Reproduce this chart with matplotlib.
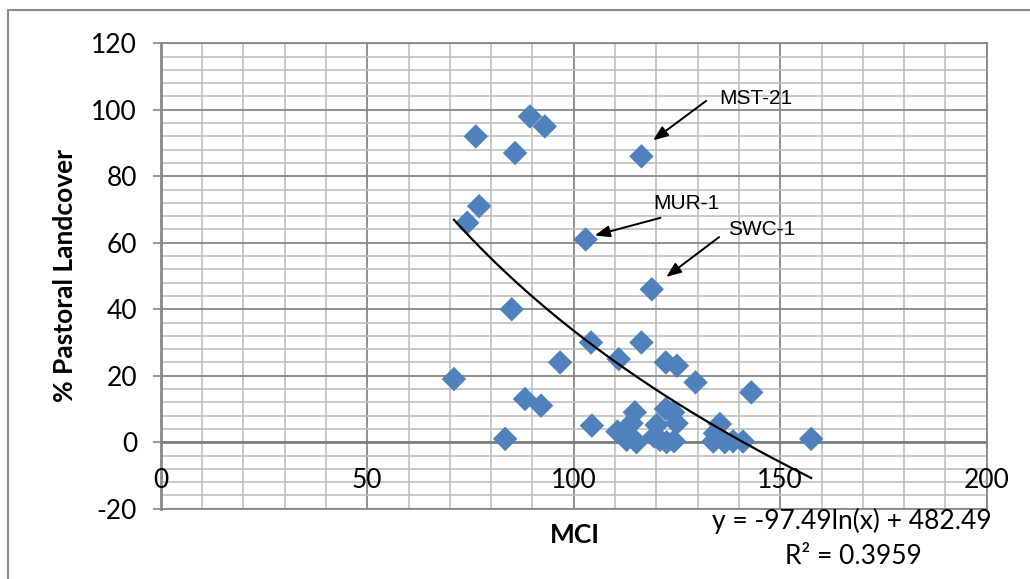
import numpy as np
import matplotlib

matplotlib.use("Agg")
import matplotlib.pyplot as plt
from matplotlib.patches import Rectangle

# MCI vs % pastoral landcover per site
mci = [71.0, 74.2, 76.3, 77.1, 83.4, 85.0, 85.8, 88.2, 89.4, 92.1, 93.0, 96.7,
       102.9, 104.4, 104.2, 110.9, 116.4, 116.4, 118.9, 122.3, 125.0, 129.5,
       143.0, 157.5,
       110.6, 112.0, 112.8, 114.0, 114.8, 115.2, 119.5, 120.1, 120.9, 122.3,
       122.5, 124.1, 124.9, 124.3, 133.8, 134.2, 135.4, 136.6, 138.6, 141.0]
pastoral = [19, 66, 92, 71, 1, 40, 87, 13, 98, 11, 95, 24,
            61, 5, 30, 25, 86, 30, 46, 24, 23, 18,
            15, 1,
            3.2, 2.0, 0.7, 5.7, 9.0, 0.0, 1.7, 5.2, 0.7, 10.0,
            0.0, 9.0, 5.7, 0.3, 0.2, 2.7, 5.5, 0.0, 0.3, 0.2]

# logarithmic trendline y = a ln(x) + b
fit_a, fit_b = -97.49, 482.49
fit_r2 = 0.3959

x_ticks = [0, 50, 100, 150, 200]
y_ticks = [-20, 0, 20, 40, 60, 80, 100, 120]

# labelled sites: (name, text pos, arrow tail, arrow tip)
callouts = [
    ("MST-21", (135.3, 103.4), (132.1, 102.7), (119.2, 90.8)),
    ("MUR-1", (119.2, 71.8), (121.0, 67.5), (105.1, 62.2)),
    ("SWC-1", (137.4, 63.9), (135.2, 61.7), (122.4, 49.7)),
]

FONT = "Lato"
FS = 19

W, H = 1030, 579
fig = plt.figure(figsize=(W / 100, H / 100), dpi=100)
ax = fig.add_axes([160.7 / W, 1 - 508.7 / H, 826.0 / W, 465.4 / H])

ax.set_xlim(0, 200)
ax.set_ylim(-20, 120)

grid_minor = "#BFBFBF"
grid_major = "#878787"
for v in np.arange(0, 201, 10):
    major = v % 50 == 0
    ax.axvline(v, color=grid_major if major else grid_minor,
               lw=1.3 if major else 1.2, zorder=1)
for v in np.arange(-20, 121, 4):
    major = v % 20 == 0
    ax.axhline(v, color=grid_major if major else grid_minor,
               lw=1.3 if major else 1.2, zorder=1)
ax.axhline(0, color="#7F7F7F", lw=2.0, zorder=1.5)

for side in ax.spines.values():
    side.set_color(grid_major)
    side.set_linewidth(1.3)
ax.spines["left"].set_linewidth(2.0)

ax.scatter(mci, pastoral, marker="D", s=155, color="#4F81BD",
           edgecolors="none", zorder=3, clip_on=False)

xs = np.linspace(min(mci), max(mci), 200)
ax.plot(xs, fit_a * np.log(xs) + fit_b, color="black", lw=1.6, zorder=4)

ax.set_xticks(x_ticks)
ax.set_xticklabels([])
ax.tick_params(axis="x", length=0)
for v in x_ticks:
    ax.text(v, -11.5, str(v), ha="center", va="center", fontsize=FS,
            family=FONT, color="black", zorder=5)

ax.set_yticks(y_ticks)
ax.set_yticklabels([str(v) for v in y_ticks], fontsize=FS, family=FONT)
ax.tick_params(axis="y", length=6, width=1.2, color=grid_major, pad=11)

for name, tpos, tail, tip in callouts:
    ax.text(tpos[0], tpos[1], name, ha="left", va="center", fontsize=15,
            family="Liberation Sans", zorder=5)
    ax.annotate("", xy=tip, xytext=tail,
                arrowprops=dict(arrowstyle="-|>,head_length=0.9,head_width=0.35",
                                color="black", lw=1.4, shrinkA=0, shrinkB=0),
                zorder=5)

fig.text(575 / W, 1 - 535 / H, "MCI", ha="center", va="center",
         fontsize=FS, fontweight="bold", family=FONT)
fig.text(65 / W, 1 - 276 / H, "% Pastoral Landcover", ha="center", va="center",
         rotation=90, fontsize=FS, fontweight="bold", family=FONT)
fig.text(852 / W, 1 - 521 / H, f"y = {fit_a}ln(x) + {fit_b}", ha="center",
         va="center", fontsize=FS, family=FONT)
fig.text(853 / W, 1 - 556 / H, f"R² = {fit_r2}", ha="center", va="center",
         fontsize=FS, family=FONT)

# chart area border
fig.patches.append(Rectangle((8 / W, -0.1), 1.1, 1.1 - 10 / H,
                             transform=fig.transFigure, fill=False,
                             edgecolor="#8C8C8C", lw=1.5))

fig.savefig("out.png", dpi=100)
